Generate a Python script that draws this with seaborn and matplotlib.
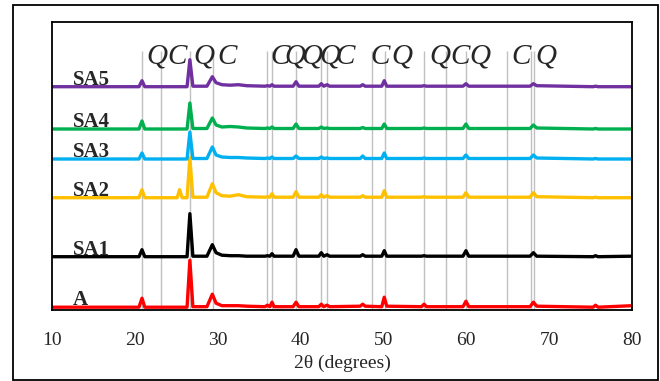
import pandas as pd
import matplotlib
matplotlib.use("Agg")
import matplotlib.pyplot as plt
import seaborn as sns
from matplotlib.patches import Rectangle

sns.set_style("white")
plt.rcParams["font.family"] = ["Liberation Serif", "DejaVu Serif"]

# 2-theta sampling positions (degrees)
two_theta = [10, 20.5, 20.86, 21.2, 25.1, 25.4, 25.7, 26.3, 26.64, 27.0,
             28.7, 29.35, 29.8, 30.5, 31.5, 32.5, 33.5, 35.7, 36.0, 36.3,
             36.55, 36.8, 39.1, 39.45, 39.8, 42.2, 42.5, 42.8, 43.2, 43.5,
             47.2, 47.5, 47.8, 49.8, 50.1, 50.4, 54.6, 54.9, 55.2, 59.6,
             59.96, 60.3, 67.7, 68.1, 68.5, 75.3, 75.6, 75.9, 80]

samples = ["A", "SA1", "SA2", "SA3", "SA4", "SA5"]

# Intensities above each pattern's own background (a.u.)
int_A = [0, 0, 9, 0, 0, 0, 0, 0, 47, 0.5,
         0.5, 13, 4, 1.5, 1.5, 1.5, 1, 0.5, 2, 0.5,
         5, 0.5, 0.5, 5, 0.5, 0.5, 3, 0.5, 2, 0.5,
         1, 3, 1, 0.5, 10, 1, 0.5, 3, 0.5, 0.5,
         6, 0.5, 0.5, 5, 1, 0, 2, 0, 1.5]
int_SA1 = [0, 0, 7, 0, 0, 0, 0, 0, 43, 0.5,
           0.5, 12, 4, 1.5, 1, 1, 0.5, 0.5, 1, 0.5,
           3, 0.5, 0.5, 7, 0.5, 0.5, 4, 0.5, 2, 0.5,
           0.5, 2, 0.5, 0.5, 6, 0.5, 0.5, 1, 0.5, 0.5,
           6, 0.5, 0.5, 4, 0.5, 0, 1, 0, 0.5]
int_SA2 = [0, 0, 8, 0, 0, 8, 0, 0, 40, 0.5,
           0.5, 14, 5, 2, 1.5, 3, 1, 0.5, 1, 0.5,
           4, 0.5, 0.5, 6, 0.5, 0.5, 3, 0.5, 2, 0.5,
           0.5, 2, 0.5, 0.5, 7, 0.5, 0.5, 1, 0.5, 0.5,
           5, 0.5, 0.5, 5, 1, 0, 0.5, 0, 0]
int_SA3 = [0, 0, 6, 0, 0, 0, 0, 0, 27, 0.5,
           0.5, 12, 4, 2, 1.5, 1.5, 1, 0.5, 1, 0.5,
           2, 0.5, 0.5, 3, 0.5, 0.5, 2, 0.5, 1, 0.5,
           0.5, 3, 0.5, 0.5, 6, 0.5, 0.5, 1, 0.5, 0.5,
           4, 0.5, 0.5, 4, 1, 0, 0.5, 0, 0]
int_SA4 = [0, 0, 8, 0, 0, 0, 0, 0, 26, 0.5,
           0.5, 11, 4, 2, 2.5, 2, 1, 0.5, 1, 0.5,
           2, 0.5, 0.5, 5, 0.5, 0.5, 2, 0.5, 1, 0.5,
           0.5, 1.5, 0.5, 0.5, 5, 0.5, 0.5, 1, 0.5, 0.5,
           5, 0.5, 0.5, 4, 1, 0, 0.5, 0, 0]
int_SA5 = [0, 0, 6, 0, 0, 0, 0, 0, 27, 0.5,
           0.5, 10, 4, 2, 1.5, 2, 1, 0.5, 1, 0.5,
           2, 0.5, 0.5, 5, 0.5, 0.5, 3, 0.5, 2, 0.5,
           0.5, 2, 0.5, 0.5, 6, 0.5, 0.5, 1, 0.5, 0.5,
           3, 0.5, 0.5, 3, 1, 0, 0.5, 0, 0]

# Vertical stacking of the patterns
stack_offset = [2.8, 53.3, 112.3, 151, 181, 223.3]
colors = ["#FF0000", "#000000", "#FFC000", "#00B0F0", "#00B050", "#7030A0"]

# Reference reflections: Q = quartz, C = calcite
phase_lines = [20.86, 23.1, 26.65, 29.4, 35.98, 36.58, 39.45, 42.5, 43.2,
               48.58, 50.19, 54.93, 57.5, 60.0, 64.88, 67.8, 68.2]
phase_marks = ["Q", "C", "Q", "C", "C", "Q", "Q", "Q", "C",
               "C", "Q", "Q", "C", "Q", "C", "Q"]
phase_mark_x = [22.67, 25.09, 28.34, 31.12, 37.52, 39.33, 41.38, 43.55, 45.36,
                49.58, 52.24, 56.83, 59.24, 61.65, 66.6, 69.62]

intensities = [int_A, int_SA1, int_SA2, int_SA3, int_SA4, int_SA5]
frames = []
for name, vals, off in zip(samples, intensities, stack_offset):
    frames.append(pd.DataFrame({"two_theta": two_theta,
                                "counts": [v + off for v in vals],
                                "sample": name}))
df = pd.concat(frames, ignore_index=True)

fig = plt.figure(figsize=(6.6, 3.81), dpi=100)
ax = fig.add_axes([52 / 660, 1 - 310 / 381, 580 / 660, 288 / 381])

ax.vlines(phase_lines, 0, 259.3, color="#c0c0c0", lw=1.0, zorder=1)

sns.lineplot(data=df, x="two_theta", y="counts", hue="sample",
             hue_order=samples, palette=dict(zip(samples, colors)),
             estimator=None, legend=False, lw=2.4, ax=ax, zorder=2)

for name, off in zip(samples, stack_offset):
    ax.text(12.5, off + 2, name, fontsize=15, fontweight="bold",
            va="baseline", ha="left", zorder=4)

for mark, xm in zip(phase_marks, phase_mark_x):
    ax.text(xm, 246, mark, fontsize=21, style="italic",
            va="baseline", ha="center", zorder=3)

ax.set_xlim(10, 80)
ax.set_ylim(0, 288)
ax.set_xticks(range(10, 81, 10))
ax.set_yticks([])
ax.tick_params(axis="x", direction="out", length=4, width=1.2,
               labelsize=14, pad=12, color="black")
ax.set_xlabel("2θ (degrees)", fontsize=14, labelpad=4)
ax.set_ylabel("")
for s in ax.spines.values():
    s.set_visible(True)
    s.set_color("black")
    s.set_linewidth(1.3)

fig.patches.append(Rectangle((13 / 660, 1 - 380 / 381), 645 / 660, 375 / 381,
                             transform=fig.transFigure, fill=False,
                             edgecolor="black", lw=1.3))

fig.savefig("out.png", dpi=100)
